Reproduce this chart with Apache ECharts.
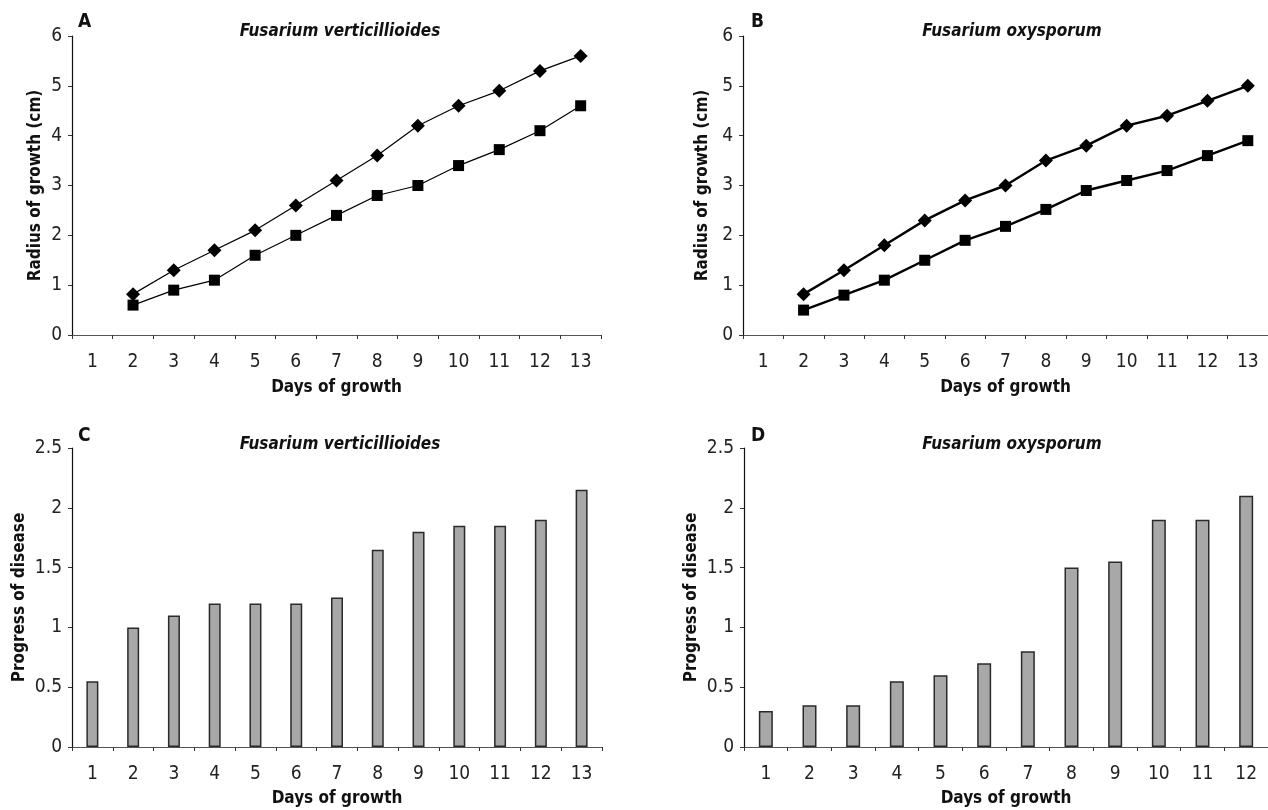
<!DOCTYPE html>
<html><head><meta charset="utf-8">
<script src="https://cdn.jsdelivr.net/npm/echarts@6/dist/echarts.min.js"></script>
<style>html,body{margin:0;padding:0;background:#fff}#c{width:1268px;height:810px}</style>
</head><body><div id="c"></div>
<script>
const daysLine = ['1','2','3','4','5','6','7','8','9','10','11','12','13'];
const daysBarC = ['1','2','3','4','5','6','7','8','9','10','11','12','13'];
const daysBarD = ['1','2','3','4','5','6','7','8','9','10','11','12'];
const aDiamond = [null,0.82,1.3,1.7,2.1,2.6,3.1,3.6,4.2,4.6,4.9,5.3,5.6];
const aSquare  = [null,0.6,0.9,1.1,1.6,2.0,2.4,2.8,3.0,3.4,3.72,4.1,4.6];
const bDiamond = [null,0.82,1.3,1.8,2.3,2.7,3.0,3.5,3.8,4.2,4.4,4.7,5.0];
const bSquare  = [null,0.5,0.8,1.1,1.5,1.9,2.18,2.52,2.9,3.1,3.3,3.6,3.9];
const cBars = [0.55,1.0,1.1,1.2,1.2,1.2,1.25,1.65,1.8,1.85,1.85,1.9,2.15];
const dBars = [0.3,0.35,0.35,0.55,0.6,0.7,0.8,1.5,1.55,1.9,1.9,2.1];
const titleA = 'Fusarium verticillioides';
const titleB = 'Fusarium oxysporum';
const yNameTop = 'Radius of growth (cm)';
const yNameBottom = 'Progress of disease';
const xName = 'Days of growth';

const FN = '"Liberation Sans Narrow","DejaVu Sans Condensed",sans-serif';
const nameStyle = {fontFamily: FN, fontWeight: 'bold', fontSize: 17, color: '#111'};
const tickLbl = {fontFamily: FN, fontSize: 19, color: '#222'};

function xAxis(gi, data, gap) {
  return {
    type: 'category', gridIndex: gi, data: data, boundaryGap: true,
    name: xName, nameLocation: 'middle', nameGap: gap, nameTextStyle: nameStyle,
    axisLine: {lineStyle: {color: '#555', width: 1.2}},
    axisTick: {show: true, inside: false, length: 4, alignWithLabel: false, lineStyle: {color: '#333'}},
    axisLabel: Object.assign({margin: 18}, tickLbl),
    splitLine: {show: false}
  };
}
function yAxis(gi, max, interval, gap, name) {
  return {
    type: 'value', gridIndex: gi, min: 0, max: max, interval: interval,
    name: name, nameLocation: 'middle', nameGap: gap, nameRotate: 90, nameTextStyle: nameStyle,
    axisLine: {show: true, lineStyle: {color: '#111', width: 1.2}},
    axisTick: {show: true, length: 4, lineStyle: {color: '#333'}},
    axisLabel: Object.assign({margin: 10}, tickLbl),
    splitLine: {show: false}
  };
}
function lineSeries(xi, data, sym, size, w) {
  return {type: 'line', xAxisIndex: xi, yAxisIndex: xi, data: data, symbol: sym, symbolSize: size,
    showSymbol: true, connectNulls: false,
    lineStyle: {color: '#000', width: w}, itemStyle: {color: '#000'}, animation: false};
}
function barSeries(xi, data, w) {
  return {type: 'bar', xAxisIndex: xi, yAxisIndex: xi, data: data, barWidth: w,
    itemStyle: {color: '#a8a8a8', borderColor: '#2a2a2a', borderWidth: 1.5}, animation: false};
}
function ttl(text, x, y, italic) {
  return {text: text, left: x, top: y, padding: 0, textAlign: italic ? 'center' : 'left',
    textStyle: {fontFamily: FN, fontSize: italic ? 17 : 19, fontWeight: 'bold', fontStyle: italic ? 'italic' : 'normal', color: '#111'}};
}

const chart = echarts.init(document.getElementById('c'), null, {renderer: 'canvas'});
chart.setOption({
  backgroundColor: '#fff',
  animation: false,
  title: [
    ttl(titleA, 340, 23, true), ttl(titleB, 1012, 23, true),
    ttl(titleA, 340, 436, true), ttl(titleB, 1012, 436, true),
    ttl('A', 78, 13, false), ttl('B', 751, 13, false),
    ttl('C', 78, 427, false), ttl('D', 751, 427, false)
  ],
  grid: [
    {left: 72, top: 36, width: 529, height: 299},
    {left: 743, top: 36, width: 531, height: 299},
    {left: 72, top: 448, width: 530, height: 299},
    {left: 744, top: 448, width: 530, height: 299}
  ],
  xAxis: [xAxis(0, daysLine, 44), xAxis(1, daysLine, 44), xAxis(2, daysBarC, 43), xAxis(3, daysBarD, 43)],
  yAxis: [yAxis(0, 6, 1, 28, yNameTop), yAxis(1, 6, 1, 32, yNameTop), yAxis(2, 2.5, 0.5, 44, yNameBottom), yAxis(3, 2.5, 0.5, 44, yNameBottom)],
  series: [
    lineSeries(0, aDiamond, 'diamond', 14, 1.2),
    lineSeries(0, aSquare, 'rect', 11, 1.2),
    lineSeries(1, bDiamond, 'diamond', 14, 2.4),
    lineSeries(1, bSquare, 'rect', 11, 2.4),
    barSeries(2, cBars, 12),
    barSeries(3, dBars, 14)
  ]
});
</script></body></html>
